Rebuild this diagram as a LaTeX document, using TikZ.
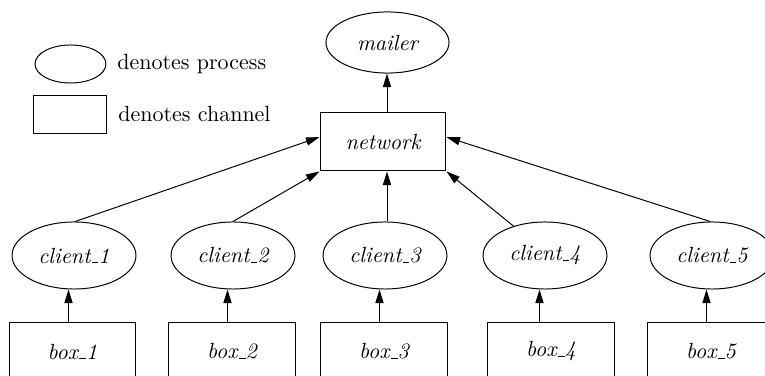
\documentclass[tikz,border=0pt]{standalone}
\usetikzlibrary{shapes.geometric,arrows.meta,calc}
\newcommand{\usc}{\leavevmode\kern.06em\vbox{\hrule width.3em}}
\begin{document}
\begin{tikzpicture}[x=0.455pt,y=-0.455pt,
  proc/.style={draw,ellipse,inner sep=0pt,line width=0.45pt,font=\itshape},
  chan/.style={draw,rectangle,inner sep=0pt,line width=0.45pt,font=\itshape},
  cl/.style={proc,minimum width=56.4pt,minimum height=30.5pt},
  bx/.style={chan,minimum width=57.5pt,minimum height=26.8pt},
  legtext/.style={anchor=west,inner sep=0pt},
  edge/.style={line width=0.45pt,-{Triangle[length=6.2pt,width=3.7pt]}}]
\useasboundingbox (0,0) rectangle (765,376);
% legend
\node[proc,minimum width=32.3pt,minimum height=17.3pt] (legE) at (70.5,64) {};
\node[chan,minimum width=32.8pt,minimum height=17.7pt] (legR) at (70,114.5) {};
\node[legtext] (legEt) at (117,64) {denotes process};
\node[legtext] (legRt) at (118,114) {denotes channel};
% main
\node[proc,minimum width=56pt,minimum height=27.8pt] (mailer) at (387.5,42.5) {mailer};
\node[chan,minimum width=57.3pt,minimum height=26.8pt] (net) at (383,141.5) {network};
\foreach \i/\cx/\bx in {1/74/72.5,2/233/232,3/385/384,4/545/551,5/712/711}{
  \node[cl] (c\i) at (\cx,255.5) {client\usc\i};
  \node[bx] (b\i) at (\bx,351.5) {box\usc\i};
  \coordinate (a\i) at ($(c\i.center)+(-5.5,0)$);
  \draw[edge] (a\i |- b\i.north) -- (a\i |- c\i.south);
}
\coordinate (m) at (387,0);
\draw[edge] (m |- net.north) -- (m |- mailer.south);
\coordinate (n3) at (387,0);
\draw[edge] (n3 |- c3.north) -- (n3 |- net.south);
\draw[edge] (c1.88) -- (net.176.8);
\draw[edge] (c2.north) -- (net.south west);
\draw[edge] (c4.137) -- (net.south east);
\draw[edge] (c5.93) -- (net.4);
\end{tikzpicture}
\end{document}
